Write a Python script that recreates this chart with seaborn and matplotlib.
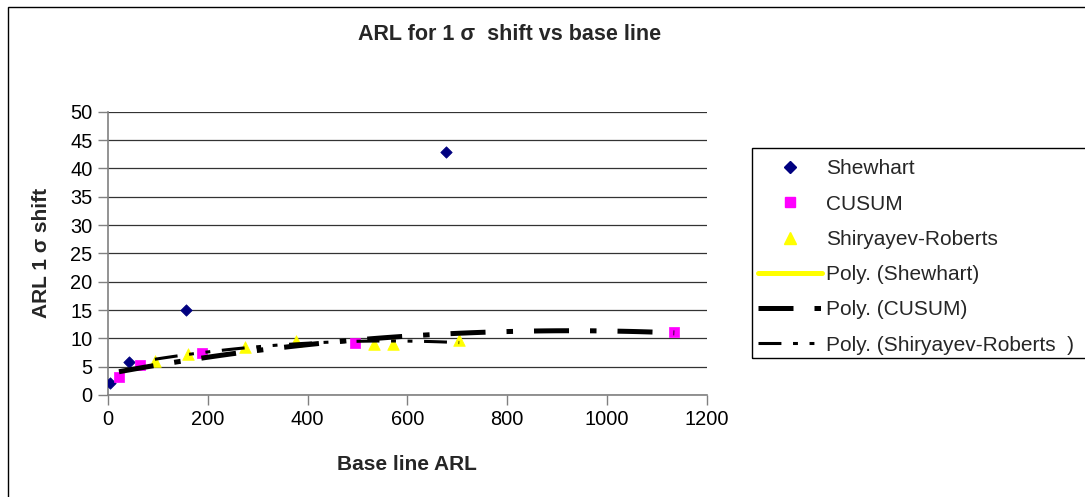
import numpy as np
import pandas as pd
import matplotlib
matplotlib.use("Agg")
import matplotlib.pyplot as plt
from matplotlib.lines import Line2D
from matplotlib.patches import Rectangle
import seaborn as sns

# ---- data ----
shewhart_x = [4, 43, 157, 677]
shewhart_y = [2.05, 5.9, 15.0, 42.9]

cusum_x = [22, 64, 189, 495, 1135]
cusum_y = [3.1, 5.3, 7.5, 9.1, 11.05]

sr_x = [94, 160, 274, 377, 534, 571, 704]
sr_y = [6.0, 7.3, 8.5, 9.6, 9.0, 9.0, 9.7]

x_ticks = [0, 200, 400, 600, 800, 1000, 1200]
y_ticks = [0, 5, 10, 15, 20, 25, 30, 35, 40, 45, 50]

title = "ARL for 1 \u03c3  shift vs base line"
xlabel = "Base line ARL"
ylabel = "ARL 1 \u03c3 shift"

sns.set_theme(style="white")
plt.rcParams["font.family"] = ["Liberation Sans", "DejaVu Sans"]

W, H = 1085, 497
fig = plt.figure(figsize=(W / 100, H / 100), dpi=100)
fig.patch.set_facecolor("white")

ax_l, ax_r, ax_t, ax_b = 108, 706.7, 111.7, 395
ax = fig.add_axes([ax_l / W, 1 - ax_b / H, (ax_r - ax_l) / W, (ax_b - ax_t) / H])

# outer chart border (right/bottom edges are outside the picture)
fig.patches.append(Rectangle((8 / W, -0.2), 2.0, 1.2 - 7 / H, transform=fig.transFigure,
                             fill=False, edgecolor="black", linewidth=1.0))
# legend frame (right edge outside the picture)
fig.patches.append(Rectangle((752 / W, 1 - 358 / H), 0.5, (358 - 148) / H,
                             transform=fig.transFigure, fill=False,
                             edgecolor="black", linewidth=1.0))

navy, magenta, yellow = "#000080", "#FF00FF", "#FFFF00"

df_s = pd.DataFrame({"x": shewhart_x, "y": shewhart_y})
df_c = pd.DataFrame({"x": cusum_x, "y": cusum_y})
df_r = pd.DataFrame({"x": sr_x, "y": sr_y})

sns.scatterplot(data=df_s, x="x", y="y", ax=ax, marker="D", s=34, color=navy,
                edgecolor=navy, linewidth=0.5, zorder=3)
sns.scatterplot(data=df_c, x="x", y="y", ax=ax, marker="s", s=50, color=magenta,
                edgecolor=magenta, linewidth=0.5, zorder=3)
sns.scatterplot(data=df_r, x="x", y="y", ax=ax, marker="^", s=70, color=yellow,
                edgecolor=yellow, linewidth=0.5, zorder=3)

cusum_ls = (0, (7.0, 4.2, 1.3, 4.2))
sr_ls = (0, (7.5, 3.8, 1.6, 3.8, 1.6, 3.8))

sns.regplot(data=df_c, x="x", y="y", ax=ax, order=2, scatter=False, ci=None,
            line_kws=dict(color="black", lw=3.6, linestyle=cusum_ls,
                          solid_capstyle="butt", dash_capstyle="butt", zorder=4))
sns.regplot(data=df_r, x="x", y="y", ax=ax, order=2, scatter=False, ci=None,
            line_kws=dict(color="black", lw=2.2, linestyle=sr_ls,
                          dash_capstyle="butt", zorder=4))

ax.set_xlim(0, 1200)
ax.set_ylim(0, 50)
ax.set_xticks(x_ticks)
ax.set_yticks(y_ticks)
ax.set_xticklabels([str(v) for v in x_ticks])
ax.set_yticklabels([str(v) for v in y_ticks])
ax.tick_params(axis="both", labelsize=14.4, colors="black", length=7, width=1,
               direction="out", pad=4, color="#808080")
ax.tick_params(axis="both", bottom=True, left=True)
ax.yaxis.grid(True, color="#333333", linewidth=0.9)
ax.xaxis.grid(False)
ax.set_axisbelow(True)
for side in ["top", "right"]:
    ax.spines[side].set_visible(False)
for side in ["left", "bottom"]:
    ax.spines[side].set_color("#808080")
    ax.spines[side].set_linewidth(1.2)

ax.set_xlabel(xlabel, fontsize=15, fontweight="bold")
ax.set_ylabel(ylabel, fontsize=15, fontweight="bold")
ax.xaxis.set_label_coords(0.5, (ax_b - 455) / (ax_b - ax_t))
ax.yaxis.set_label_coords((51 - ax_l) / (ax_r - ax_l), 0.5)

fig.text(510 / W, 1 - 35 / H, title, ha="center", va="center",
         fontsize=15.5, fontweight="bold")

handles = [
    Line2D([], [], marker="D", color=navy, linestyle="none", markersize=5.8),
    Line2D([], [], marker="s", color=magenta, linestyle="none", markersize=7),
    Line2D([], [], marker="^", color=yellow, linestyle="none", markersize=8.4),
    Line2D([], [], color=yellow, lw=3.6),
    Line2D([], [], color="black", lw=3.6, linestyle=cusum_ls, dash_capstyle="butt"),
    Line2D([], [], color="black", lw=2.2, linestyle=sr_ls, dash_capstyle="butt"),
]
labels = ["Shewhart", "CUSUM", "Shiryayev-Roberts", "Poly. (Shewhart)",
          "Poly. (CUSUM)", "Poly. (Shiryayev-Roberts  )"]
leg = fig.legend(handles, labels, loc="upper left",
                 bbox_to_anchor=(746.5 / W, 1 - 148 / H), borderaxespad=0,
                 frameon=False, fontsize=15, handlelength=3.07,
                 handletextpad=0.2, labelspacing=0.78, borderpad=0.55,
                 numpoints=1)

fig.savefig("out.png", dpi=100)
